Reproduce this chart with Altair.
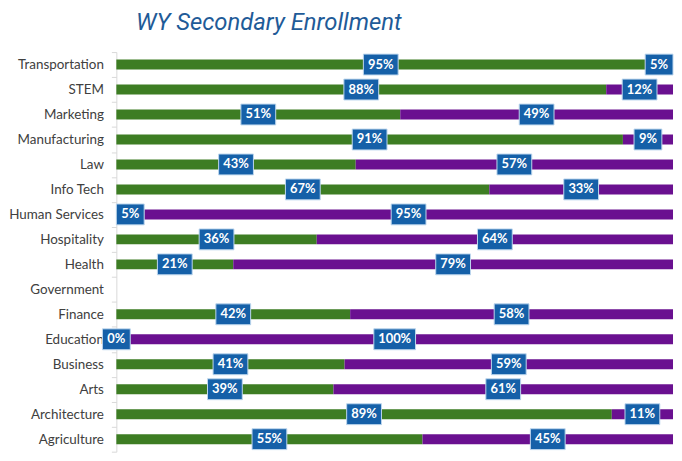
import altair as alt
import pandas as pd

categories = ["Transportation", "STEM", "Marketing", "Manufacturing", "Law", "Info Tech",
              "Human Services", "Hospitality", "Health", "Government", "Finance",
              "Education", "Business", "Arts", "Architecture", "Agriculture"]
green_pct = [95, 88, 51, 91, 43, 67, 5, 36, 21, None, 42, 0, 41, 39, 89, 55]
purple_pct = [5, 12, 49, 9, 57, 33, 95, 64, 79, None, 58, 100, 59, 61, 11, 45]
series_names = ["Green", "Purple"]
series_colors = ["#3D7D23", "#6A1090"]

W = 560
H = 402

rows = []
for cat, g, p in zip(categories, green_pct, purple_pct):
    if g is None:
        continue
    rows.append({"cat": cat, "series": "Green", "start": 0, "end": g, "value": g})
    rows.append({"cat": cat, "series": "Purple", "start": g, "end": g + p, "value": p})
df = pd.DataFrame(rows)
df["label"] = df["value"].astype(int).astype(str) + "%"

yenc = alt.Y("cat:N", scale=alt.Scale(domain=categories, paddingInner=0, paddingOuter=0),
             axis=alt.Axis(title=None, labelFont="Lato", labelFontSize=13.5, labelColor="#404040",
                           domainColor="#D9D9D9", tickColor="#D9D9D9", tickSize=5,
                           tickBand="extent", labelPadding=8, grid=False))
xscale = alt.Scale(domain=[0, 100], nice=False)

base = alt.Chart(df).transform_calculate(
    center="datum.start + datum.value / 2"
).transform_calculate(
    lo="datum.center - (length(datum.label) * 3.5 + 7) * 100 / %d" % W,
    hi="datum.center + (length(datum.label) * 3.5 + 7) * 100 / %d" % W,
)

bars = base.mark_bar(size=10).encode(
    y=yenc,
    x=alt.X("start:Q", scale=xscale, axis=None),
    x2="end:Q",
    color=alt.Color("series:N", scale=alt.Scale(domain=series_names, range=series_colors), legend=None),
)

boxes = base.mark_bar(size=21, color="#1560A8", stroke="#BDD7EE", strokeWidth=1).encode(
    y=alt.Y("cat:N"),
    x=alt.X("lo:Q", scale=xscale, axis=None),
    x2="hi:Q",
)

texts = base.mark_text(font="Lato", fontWeight="bold", fontSize=13, color="white").encode(
    y=alt.Y("cat:N"),
    x=alt.X("center:Q", scale=xscale, axis=None),
    text="label:N",
)

chart = alt.layer(bars, boxes, texts).properties(
    width=W, height=H,
    title=alt.TitleParams("WY Secondary Enrollment", font="Roboto",
                          fontSize=24, fontStyle="italic", fontWeight="normal", color="#1F5B98",
                          anchor="start", dx=128, offset=10),
    padding={"left": 0, "top": 2, "right": 0, "bottom": 0},
).configure_view(stroke=None)

chart.save("out.html", embed_options={"renderer": "svg", "actions": False})
